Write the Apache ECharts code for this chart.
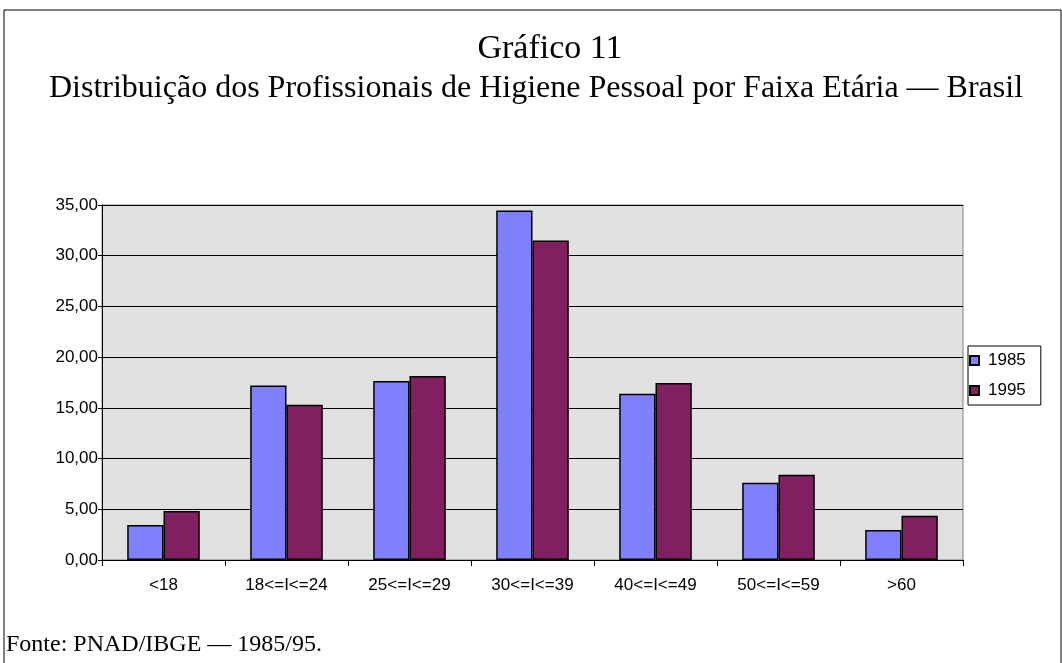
<!DOCTYPE html>
<html>
<head>
<meta charset="utf-8">
<script src="https://cdn.jsdelivr.net/npm/echarts@6/dist/echarts.min.js"></script>
<style>
  html, body { margin:0; padding:0; background:#fff; }
  #chart { width:1062px; height:663px; }
</style>
</head>
<body>
<div id="chart"></div>
<script>
// faixas etarias
var faixas = ['<18', '18<=I<=24', '25<=I<=29', '30<=I<=39', '40<=I<=49', '50<=I<=59', '>60'];
var anos = ['1985', '1995'];
var v1985 = [3.45, 17.2, 17.65, 34.45, 16.4, 7.62, 2.96];
var v1995 = [4.83, 15.3, 18.15, 31.5, 17.45, 8.41, 4.37];
var yTicks = [0, 5, 10, 15, 20, 25, 30, 35];

var chart = echarts.init(document.getElementById('chart'));

function fmt(v){
    return v.toFixed(2).replace('.', ',');
}

var option = {
    animation: false,
    color: ['#8080ff', '#802060'],
    title: [
        {
            text: 'Gráfico 11',
            left: 545, top: 27,
            textAlign: 'center',
            textStyle: { fontFamily: 'Liberation Serif', fontSize: 34, fontWeight: 'normal', color: '#000' }
        },
        {
            text: 'Distribuição dos Profissionais de Higiene Pessoal por Faixa Etária — Brasil',
            left: 531, top: 68,
            textAlign: 'center',
            textStyle: { fontFamily: 'Liberation Serif', fontSize: 32, fontWeight: 'normal', color: '#000' }
        }
    ],
    legend: {
        orient: 'vertical',
        left: 968, top: 346,
        data: anos,
        icon: 'rect',
        itemWidth: 9, itemHeight: 9,
        itemGap: 13,
        padding: [6, 15, 6, 1],
        backgroundColor: '#fff',
        borderColor: '#000',
        borderWidth: 1,
        textStyle: { fontFamily: 'Liberation Sans', fontSize: 17, color: '#000', padding: [0, 0, 0, 4] }
    },
    grid: {
        left: 102, top: 205, right: 99, bottom: 103,
        show: true,
        backgroundColor: '#e0e0e0',
        borderColor: '#808080',
        borderWidth: 1
    },
    xAxis: {
        type: 'category',
        data: faixas,
        axisLine: { lineStyle: { color: '#000', width: 1 } },
        axisTick: { show: true, length: 6, lineStyle: { color: '#000' } },
        axisLabel: { margin: 17, fontFamily: 'Liberation Sans', fontSize: 17, color: '#000' },
        splitLine: { show: false }
    },
    yAxis: {
        type: 'value',
        min: yTicks[0], max: yTicks[yTicks.length - 1], interval: 5,
        axisLine: { show: true, lineStyle: { color: '#000' } },
        axisTick: { show: true, length: 4, lineStyle: { color: '#000' } },
        axisLabel: { margin: 4, fontFamily: 'Liberation Sans', fontSize: 17, color: '#000', formatter: fmt },
        splitLine: { show: true, lineStyle: { color: '#000', width: 1 } }
    },
    series: [
        {
            name: anos[0], type: 'bar', data: v1985,
            barGap: '0%', barCategoryGap: '41%',
            itemStyle: { color: '#8080ff', borderColor: '#000', borderWidth: 1.5 }
        },
        {
            name: anos[1], type: 'bar', data: v1995,
            barGap: '0%', barCategoryGap: '41%',
            itemStyle: { color: '#802060', borderColor: '#000', borderWidth: 1.5 }
        }
    ],
    graphic: [
        {
            type: 'rect',
            shape: { x: 4, y: 10, width: 1057, height: 700 },
            style: { fill: 'none', stroke: '#000', lineWidth: 1 },
            silent: true
        },
        {
            type: 'text',
            left: 6, top: 633,
            style: { text: 'Fonte: PNAD/IBGE — 1985/95.', font: '24px "Liberation Serif"', fill: '#000' }
        }
    ]
};

chart.setOption(option);
</script>
</body>
</html>
